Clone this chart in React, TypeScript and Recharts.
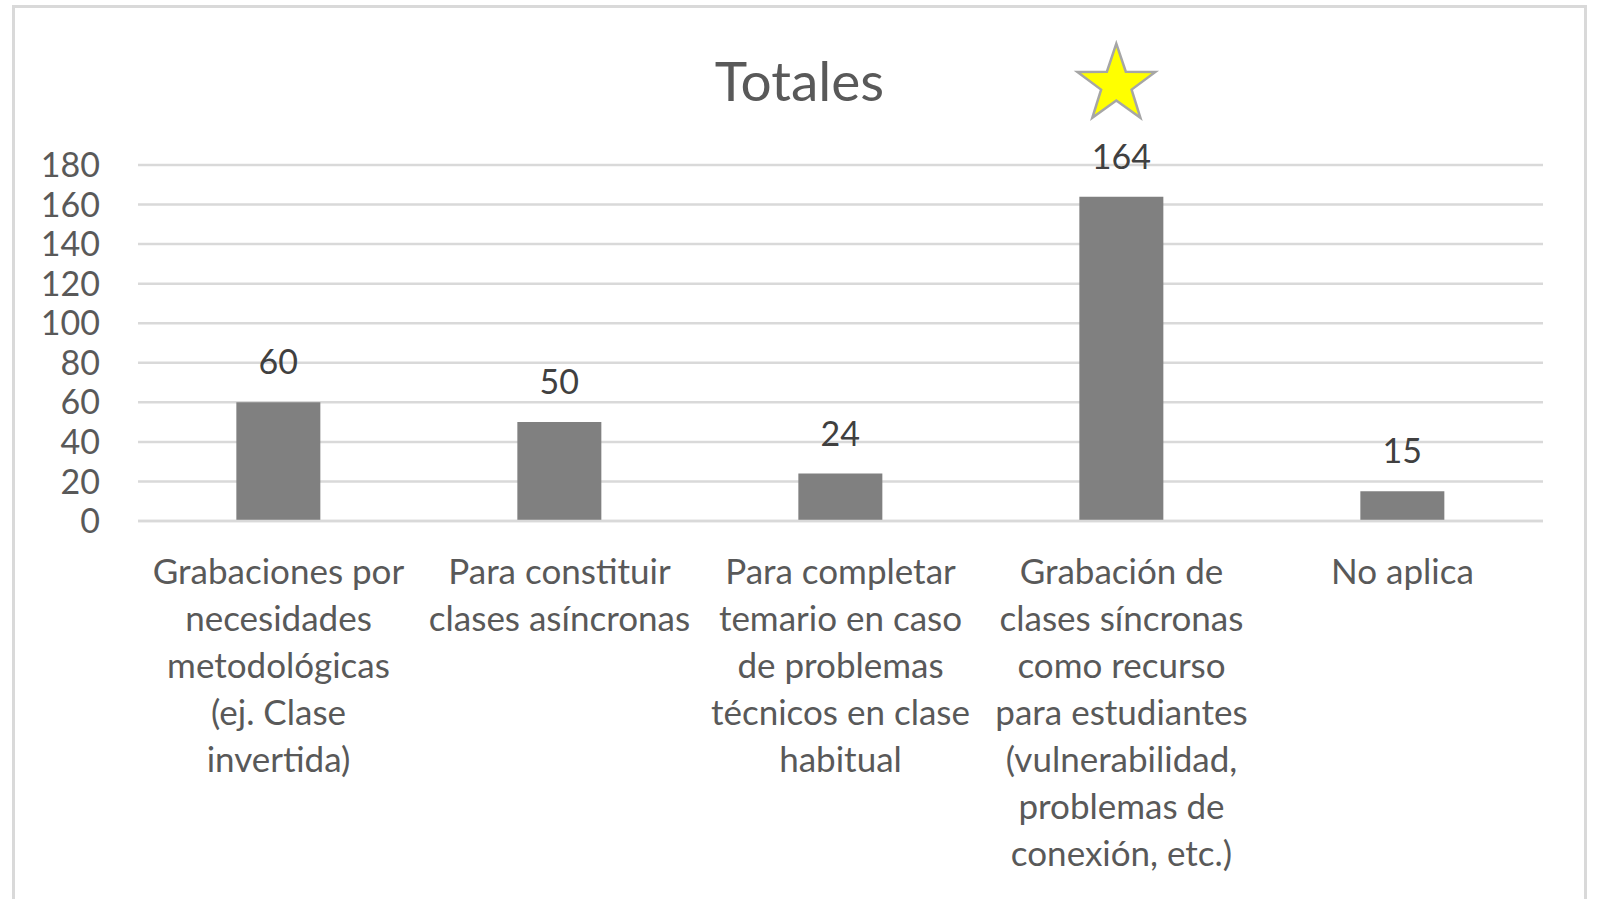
import { Bar, BarChart, CartesianGrid, LabelList, XAxis, YAxis } from "recharts";

const categories = [
  "Grabaciones por\nnecesidades\nmetodológicas\n(ej. Clase\ninvertida)",
  "Para constituir\nclases asíncronas",
  "Para completar\ntemario en caso\nde problemas\ntécnicos en clase\nhabitual",
  "Grabación de\nclases síncronas\ncomo recurso\npara estudiantes\n(vulnerabilidad,\nproblemas de\nconexión, etc.)",
  "No aplica",
];
const totals = [60, 50, 24, 164, 15];
const yTicks = [0, 20, 40, 60, 80, 100, 120, 140, 160, 180];

const FONT = "Lato, 'Open Sans', sans-serif";
const data = categories.map((c, i) => ({ name: c, value: totals[i] }));
const maxVal = Math.max(...totals);

function starPath(cx: number, cy: number, r: number, ri: number) {
  const pts: string[] = [];
  for (let i = 0; i < 10; i++) {
    const rad = i % 2 === 0 ? r : ri;
    const a = -Math.PI / 2 + (i * Math.PI) / 5;
    pts.push(`${(cx + rad * Math.cos(a)).toFixed(1)},${(cy + rad * Math.sin(a)).toFixed(1)}`);
  }
  return `M${pts.join("L")}Z`;
}

function CatTick(props: any) {
  const { x, y, payload } = props;
  const lines = String(payload.value).split("\n");
  return (
    <text x={x} y={y + 55} textAnchor="middle" fill="#595959" fontSize={35} fontFamily={FONT}>
      {lines.map((l, i) => (
        <tspan key={i} x={x} dy={i === 0 ? 0 : 47}>
          {l}
        </tspan>
      ))}
    </text>
  );
}

function ValueLabel(props: any) {
  const { x, y, width, value } = props;
  const cx = x + width / 2;
  return (
    <g>
      <text x={cx} y={y - 28} textAnchor="middle" fill="#404040" fontSize={34} fontFamily={FONT}>
        {value}
      </text>
      {value === maxVal && (
        <path
          d={starPath(cx - 5, y - 112, 41, 16)}
          fill="#ffff00"
          stroke="#a6a6a6"
          strokeWidth={2.5}
          strokeLinejoin="miter"
        />
      )}
    </g>
  );
}

export default function App() {
  return (
    <div style={{ position: "absolute", left: 0, top: 0, width: 1599, height: 899, background: "#fff" }}>
      <div
        style={{
          position: "absolute",
          left: 12,
          top: 5,
          width: 1575,
          height: 900,
          border: "3px solid #d9d9d9",
          boxSizing: "border-box",
        }}
      />
      <div
        style={{
          position: "absolute",
          left: 0,
          top: 48,
          width: 1599,
          textAlign: "center",
          fontFamily: FONT,
          fontSize: 55,
          color: "#595959",
          lineHeight: "64px",
        }}
      >
        Totales
      </div>
      <div style={{ position: "absolute", left: 0, top: 0 }}>
        <BarChart
          width={1599}
          height={899}
          data={data}
          margin={{ top: 165, right: 56, bottom: 0, left: 0 }}
          barCategoryGap="35%"
        >
          <CartesianGrid vertical={false} stroke="#d9d9d9" strokeWidth={2.5} />
          <XAxis
            dataKey="name"
            height={378}
            interval={0}
            axisLine={{ stroke: "#d9d9d9", strokeWidth: 2.5 }}
            tickLine={false}
            tick={<CatTick />}
          />
          <YAxis
            width={138}
            domain={[0, 180]}
            ticks={yTicks}
            interval={0}
            axisLine={false}
            tickLine={false}
            tickMargin={32}
            tick={{ fill: "#595959", fontSize: 34, fontFamily: FONT }}
          />
          <Bar dataKey="value" fill="#808080" isAnimationActive={false}>
            <LabelList dataKey="value" content={<ValueLabel />} />
          </Bar>
        </BarChart>
      </div>
    </div>
  );
}
